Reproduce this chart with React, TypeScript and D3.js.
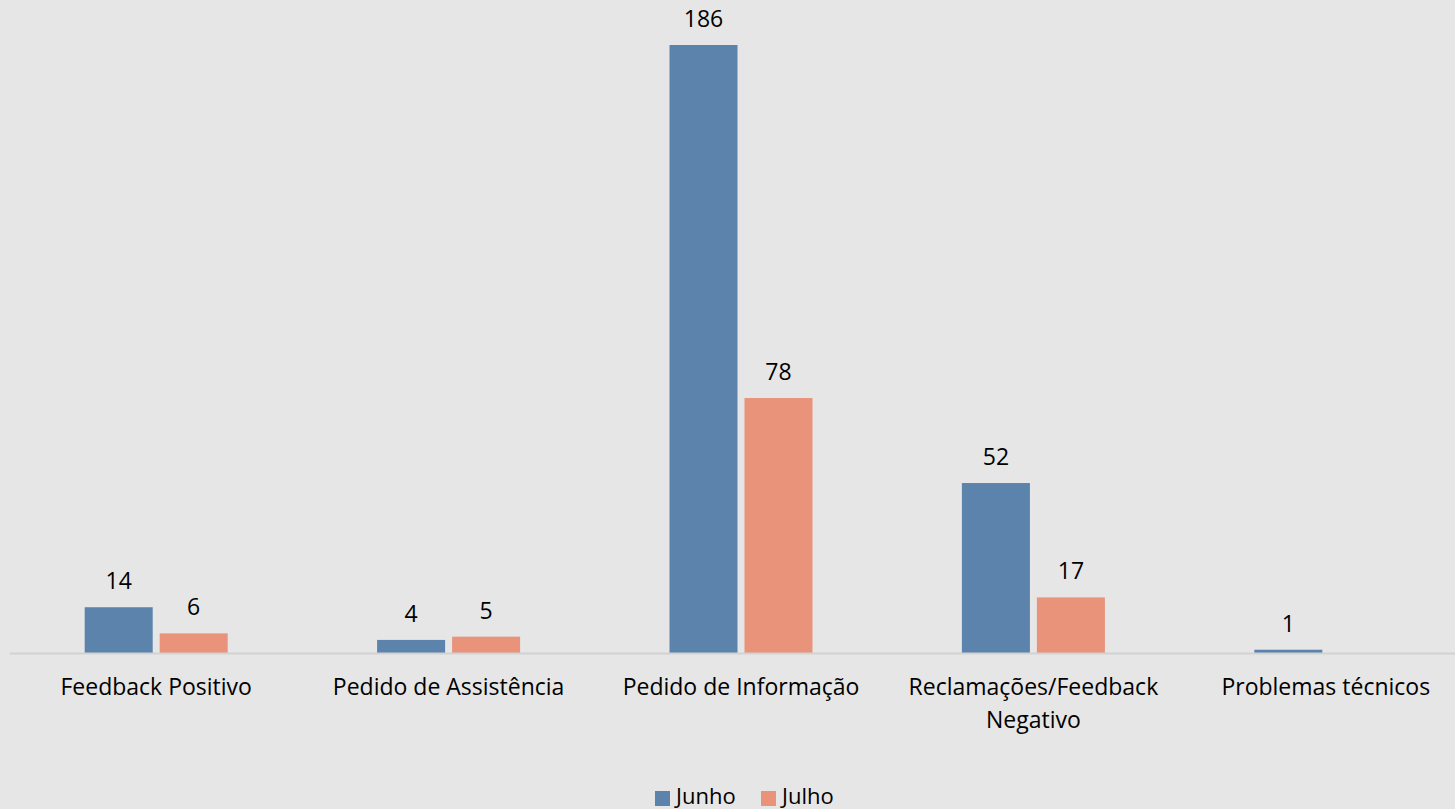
import React from "react";
import * as d3 from "d3";

const categories = ["Feedback Positivo", "Pedido de Assistência", "Pedido de Informação", "Reclamações/Feedback Negativo", "Problemas técnicos"];
const categoryLines = [["Feedback Positivo"], ["Pedido de Assistência"], ["Pedido de Informação"], ["Reclamações/Feedback", "Negativo"], ["Problemas técnicos"]];
const seriesNames = ["Junho", "Julho"];
const junho = [14, 4, 186, 52, 1];
const julho: (number | null)[] = [6, 5, 78, 17, null];
const colors = ["#5b83ab", "#e8937a"];

export default function App() {
  const W = 1455, H = 809;
  const font = "'Open Sans', sans-serif";
  const x = d3.scaleBand<string>().domain(categories).range([10, 1472]);
  const half = 71.5;
  const inner = d3.scaleBand<string>().domain(seriesNames).range([x.bandwidth() / 2 - half, x.bandwidth() / 2 + half]).paddingInner(0.0933);
  const y = d3.scaleLinear().domain([0, 186]).range([653, 45]);
  const series = [junho, julho];
  return (
    <svg width={W} height={H} style={{ position: "absolute", left: 0, top: 0, display: "block" }}>
      <rect x={0} y={0} width={W} height={H} fill="#e6e6e6" />
      {series.map((vals, si) =>
        vals.map((v, ci) => {
          if (v == null) return null;
          const bx = (x(categories[ci]) as number) + (inner(seriesNames[si]) as number);
          const bw = inner.bandwidth();
          const h = Math.max(y(0) - y(v), 2);
          return (
            <g key={si + "-" + ci}>
              <rect x={bx} y={y(0) - h} width={bw} height={h} fill={colors[si]} />
              <text x={bx + bw / 2} y={y(v) - 18} textAnchor="middle" fontFamily={font} fontSize={23} fill="#000">{v}</text>
            </g>
          );
        })
      )}
      <line x1={10} x2={W} y1={653.5} y2={653.5} stroke="#d2d2d2" strokeWidth={2} />
      {categories.map((c, ci) => (
        <text key={c} x={(x(c) as number) + x.bandwidth() / 2} y={695} textAnchor="middle" fontFamily={font} fontSize={23} fill="#000">
          {categoryLines[ci].map((l, li) => (
            <tspan key={li} x={(x(c) as number) + x.bandwidth() / 2} dy={li === 0 ? 0 : 33}>{l}</tspan>
          ))}
        </text>
      ))}
      {seriesNames.map((s, si) => (
        <g key={s} transform={`translate(${655 + si * 106},0)`}>
          <rect x={0} y={791} width={15} height={15} fill={colors[si]} />
          <text x={21} y={804} fontFamily={font} fontSize={22} fill="#000">{s}</text>
        </g>
      ))}
    </svg>
  );
}
